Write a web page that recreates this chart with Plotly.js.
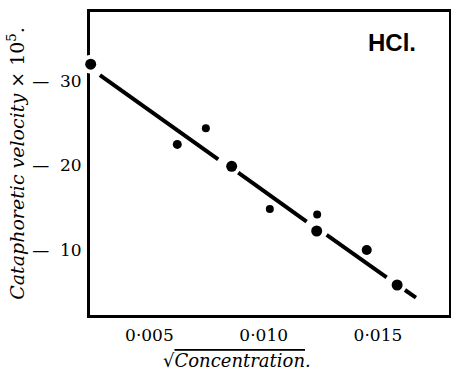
<!DOCTYPE html>
<html>
<head>
<meta charset="utf-8">
<script src="https://cdn.plot.ly/plotly-3.0.1.min.js"></script>
<style>html,body{margin:0;padding:0;background:#fff;}</style>
</head>
<body>
<div id="chart" style="width:451px;height:371px;"></div>
<script>
// Observed points: sqrt(concentration) vs cataphoretic velocity x 10^5
const sqrtConc = [0.00243, 0.00622, 0.00747, 0.00860, 0.01027, 0.01234, 0.01232, 0.01451, 0.01584];
const velocity = [32.0, 22.5, 24.4, 19.9, 14.85, 14.2, 12.25, 10.0, 5.86];
// Fitted straight line (broken where it passes the dots)
const lineX = [0.002834, 0.008011, null, 0.008886, 0.011880, null, 0.012755, 0.015381, null, 0.016182, 0.016663];
const lineY = [30.71, 20.73, null, 19.15, 13.35, null, 11.78, 6.77, null, 5.27, 4.36];
// Tick labels
const xTickVals = [0.005, 0.010, 0.015];
const xTickText = ['0·005', '0·010', '0·015'];
const yTickVals = [10, 20, 30];
const yTickText = ['—\u00a0\u00a010', '—\u00a0\u00a020', '—\u00a0\u00a030'];

const markerSizes = [11, 9, 8, 11, 8, 8, 11, 10, 11];
const serif = 'DejaVu Serif, Liberation Serif, serif';

const traces = [
  {x: lineX, y: lineY, mode: 'lines', line: {color: '#000', width: 4}, connectgaps: false, hoverinfo: 'skip'},
  {x: [sqrtConc[0]], y: [velocity[0]], mode: 'markers', cliponaxis: false,
   marker: {color: '#fff', size: 19, opacity: 1, line: {width: 0}}},
  {x: sqrtConc, y: velocity, mode: 'markers', cliponaxis: false,
   marker: {color: '#000', size: markerSizes, opacity: 1, line: {color: '#000', width: 0}}}
];

const layout = {
  width: 451, height: 371,
  margin: {l: 90, r: 2, t: 12, b: 56},
  paper_bgcolor: '#fff', plot_bgcolor: '#fff',
  showlegend: false,
  font: {family: serif, color: '#000', size: 17},
  xaxis: {
    range: [0.0024, 0.01811], showgrid: false, zeroline: false,
    showline: true, mirror: true, linecolor: '#000', linewidth: 3,
    layer: 'below traces',
    tickvals: xTickVals, ticktext: xTickText, ticks: '',
    tickfont: {family: serif, size: 17, color: '#000'},
    ticklabelstandoff: 3
  },
  yaxis: {
    range: [2.31, 38.17], showgrid: false, zeroline: false,
    showline: true, mirror: true, linecolor: '#000', linewidth: 3,
    layer: 'below traces',
    tickvals: yTickVals, ticktext: yTickText, ticks: '',
    tickfont: {family: serif, size: 17, color: '#000'},
    ticklabelstandoff: 2,
    title: {text: '<i>Cataphoretic velocity</i> × 10<sup>5</sup>.', font: {family: serif, size: 19, color: '#000'}, standoff: 3}
  },
  annotations: [
    {xref: 'paper', yref: 'paper', x: 0.841, y: 0.898, xanchor: 'center', yanchor: 'middle',
     text: '<b>HCl.</b>', showarrow: false,
     font: {family: 'Liberation Sans, Arial, sans-serif', size: 24, color: '#000'}},
    {xref: 'paper', yref: 'paper', x: 0.41, y: -0.15, xanchor: 'center', yanchor: 'middle',
     text: '√<i><span style="text-decoration:overline">Concentration</span>.</i>', showarrow: false,
     font: {family: serif, size: 18, color: '#000'}}
  ]
};

Plotly.newPlot('chart', traces, layout, {displayModeBar: false, staticPlot: true});
</script>
</body>
</html>
